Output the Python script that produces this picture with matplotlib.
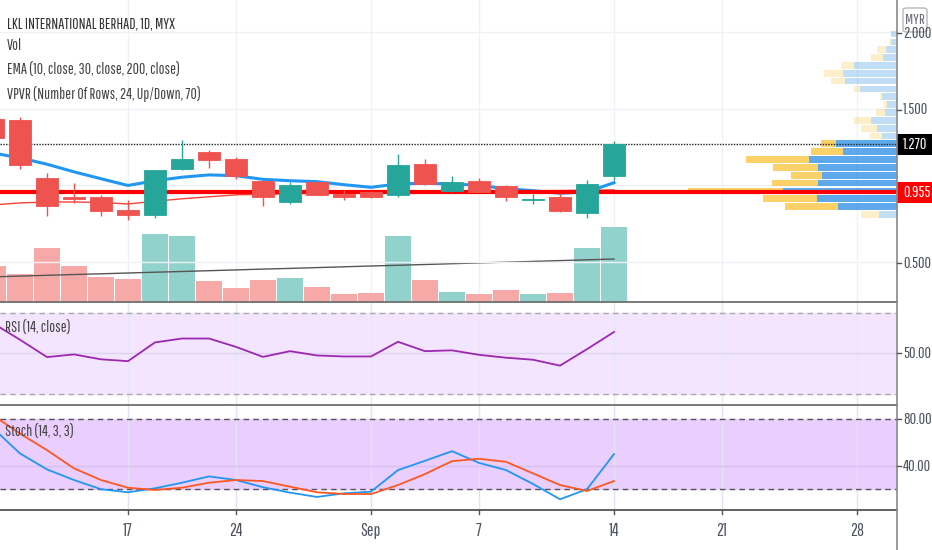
import numpy as np
import matplotlib
matplotlib.use("Agg")
import matplotlib.pyplot as plt
from matplotlib import font_manager
from matplotlib.patches import Rectangle, FancyBboxPatch

# the screenshot text is very narrow, so use a condensed face if one is there
installed = set(f.name for f in font_manager.fontManager.ttflist)
for fam in ['Pathway Gothic One', 'Sofia Sans Extra Condensed', 'Saira Extra Condensed',
            'Roboto Condensed', 'Liberation Sans Narrow', 'DejaVu Sans']:
    if fam in installed:
        break
plt.rcParams['font.family'] = [fam, 'DejaVu Sans']

# daily bars, LKL International Berhad (MYX), Aug 10 - Sep 14 2020
dates = ['2020-08-10', '2020-08-11', '2020-08-12', '2020-08-13', '2020-08-14',
         '2020-08-17', '2020-08-18', '2020-08-19', '2020-08-21', '2020-08-24',
         '2020-08-25', '2020-08-26', '2020-08-27', '2020-08-28', '2020-09-01',
         '2020-09-02', '2020-09-03', '2020-09-04', '2020-09-07', '2020-09-08',
         '2020-09-09', '2020-09-10', '2020-09-11', '2020-09-14']
opens = [1.435, 1.430, 1.050, 0.925, 0.925, 0.840, 0.810, 1.105, 1.220, 1.170, 1.030, 0.890,
         1.020, 0.945, 0.955, 0.935, 1.140, 0.965, 1.030, 0.995, 0.905, 0.925, 0.820, 1.060]
highs = [1.450, 1.450, 1.080, 1.015, 0.940, 0.905, 1.100, 1.300, 1.230, 1.185, 1.035, 1.025,
         1.030, 0.970, 0.965, 1.205, 1.175, 1.060, 1.050, 1.005, 0.945, 0.950, 1.035, 1.290]
lows = [1.300, 1.105, 0.800, 0.885, 0.800, 0.775, 0.790, 1.100, 1.115, 1.040, 0.865, 0.880,
        0.935, 0.905, 0.920, 0.925, 1.005, 0.960, 0.955, 0.900, 0.880, 0.825, 0.790, 1.035]
closes = [1.310, 1.135, 0.865, 0.910, 0.835, 0.805, 1.100, 1.170, 1.165, 1.065, 0.925, 1.005,
          0.940, 0.925, 0.925, 1.135, 1.010, 1.025, 0.960, 0.925, 0.910, 0.830, 1.010, 1.270]
volumes = [3570, 2770, 5330, 3570, 2500, 2270, 6800, 6530, 2070, 1400, 2200, 2370,
           1500, 800, 870, 6600, 2200, 1000, 730, 1170, 730, 870, 5330, 7430]
vol_ma = [2480, 2560, 2640, 2720, 2790, 2870, 2950, 3020, 3100, 3180, 3260, 3330,
          3410, 3490, 3570, 3640, 3720, 3800, 3880, 3950, 4030, 4110, 4190, 4270]
ema10 = [1.212, 1.180, 1.139, 1.089, 1.044, 1.000, 1.031, 1.054, 1.069, 1.064, 1.040, 1.031,
         1.025, 1.005, 0.988, 1.010, 1.014, 1.010, 1.001, 0.979, 0.966, 0.949, 0.958, 1.018]
ema30 = [0.873, 0.886, 0.892, 0.892, 0.889, 0.879, 0.897, 0.913, 0.926, 0.939, 0.942, 0.946,
         0.949, 0.951, 0.954, 0.956, 0.958, 0.960, 0.962, 0.964, 0.966, 0.967, 0.969, 0.971]
ema200_last = 0.955
rsi = [64.8, 56.7, 48.2, 49.5, 47.1, 46.2, 55.4, 57.3, 57.3, 53.2, 48.3, 51.1,
       49.0, 48.5, 48.5, 55.7, 51.1, 51.5, 49.3, 47.9, 46.9, 44.0, 52.1, 60.5]
stoch_k = [72.4, 50.8, 37.1, 28.0, 20.1, 17.5, 20.9, 25.7, 31.1, 28.0, 21.8, 17.2,
           13.5, 16.6, 18.0, 36.5, 44.5, 52.7, 42.7, 36.5, 24.6, 11.5, 20.1, 50.2]
stoch_d = [83.4, 67.8, 53.6, 38.0, 28.0, 21.4, 19.5, 21.4, 25.7, 28.0, 27.1, 22.3,
           17.5, 16.0, 16.0, 23.7, 33.1, 44.2, 46.2, 43.6, 33.7, 23.7, 18.6, 27.1]

# VPVR, 24 rows from top (2.015) to bottom (0.785)
vp_top, vp_bottom = 2.015, 0.785
vp_up = [53, 53, 110, 133, 430, 533, 520, 367, 143, 93, 120, 260,
         193, 150, 607, 540, 880, 790, 747, 783, 1140, 797, 590, 180]
vp_down = [0, 23, 83, 120, 127, 193, 140, 60, 27, 33, 90, 170,
           163, 120, 153, 320, 623, 450, 307, 460, 947, 537, 523, 177]
vp_value_area = [False] * 14 + [True] * 9 + [False]

tick_pos = [5, 9, 14, 18, 23, 27, 32]
tick_labels = ['17', '24', 'Sep', '7', '14', '21', '28']

W, H = 932, 550
UP, DN = '#26a69a', '#ef5350'
GRID = '#eef2f6'
TXT = '#4c525e'
FS = 11.5

fig = plt.figure(figsize=(W / 100, H / 100), dpi=100)
fig.patch.set_facecolor('white')


def rect(top, bottom, right=896.7):
    return [0, 1 - bottom / H, right / W, (bottom - top) / H]


xlim = (0.26, 33.47)
x = np.arange(len(closes))
ups = [c >= o for o, c in zip(opens, closes)]

# volume pane (behind price)
ax_v = fig.add_axes(rect(0, 301.7))
ax_v.set_xlim(xlim)
ax_v.set_ylim(0, 30170)
for t in tick_pos:
    ax_v.axvline(t, color=GRID, lw=1, zorder=0)
vcol = ['#92d2cc' if u else '#f7a9a7' for u in ups]
ax_v.bar(x, volumes, width=0.94, color=vcol, zorder=2)
ax_v.plot(x, vol_ma, color='#555555', lw=1, zorder=3)
ax_v.axis('off')

# price pane
ax = fig.add_axes(rect(0, 301.7))
ax.patch.set_alpha(0)
ax.set_xlim(xlim)
ax.set_ylim(0.2405, 2.212)
for lvl in [0.5, 1.0, 1.5, 2.0]:
    ax.axhline(lvl, color=GRID, lw=1, zorder=0)
ax.axis('off')

# volume profile, drawn from right edge leftward (27 px per bar)
rows = len(vp_up)
row_h = (vp_top - vp_bottom) / rows
centers = vp_top - row_h * (np.arange(rows) + 0.5)
scale = 0.1 / 27
up_w = np.array(vp_up) * scale
dn_w = np.array(vp_down) * scale
upc = [(0.118, 0.533, 0.898, 0.72 if va else 0.27) for va in vp_value_area]
dnc = [(0.984, 0.753, 0.176, 0.72 if va else 0.25) for va in vp_value_area]
ax.barh(centers, -up_w, left=xlim[1], height=row_h * 0.86, color=upc, zorder=1)
ax.barh(centers, -dn_w, left=xlim[1] - up_w, height=row_h * 0.86, color=dnc, zorder=1)

ax.plot(x, ema30, color='#f44336', lw=1, zorder=3)
ax.plot(x, ema10, color='#2196f3', lw=2.2, zorder=4)
ax.axhline(ema200_last, color='#ff0000', lw=3, zorder=4.5)
ax.axhline(closes[-1], color='#222222', lw=1, ls=(0, (1, 1)), zorder=4.5)

for i in x:
    c = UP if ups[i] else DN
    ax.vlines(i, lows[i], highs[i], color=c, lw=1, zorder=5)
    lo, hi = min(opens[i], closes[i]), max(opens[i], closes[i])
    ax.add_patch(Rectangle((i - 0.39, lo), 0.78, max(hi - lo, 0.004),
                           facecolor=c, edgecolor=c, lw=0.6, zorder=6))

# RSI pane
ax_r = fig.add_axes(rect(302, 404))
ax_r.set_xlim(xlim)
ax_r.set_ylim(25.2, 75.2)
ax_r.axhspan(30, 70, color='#f3e5fd', zorder=0)
for t in tick_pos:
    ax_r.axvline(t, color='#e6e9f5', lw=1, zorder=1)
ax_r.axhline(50, color='#dcd3f0', lw=1, zorder=1)
for lvl in [30, 70]:
    ax_r.axhline(lvl, color='#a8a8b0', lw=1, ls=(0, (4, 3)), zorder=2)
ax_r.plot(x, rsi, color='#9c27b0', lw=1.3, zorder=3)
ax_r.axis('off')

# Stoch pane
ax_s = fig.add_axes(rect(405, 509.3))
ax_s.set_xlim(xlim)
ax_s.set_ylim(2.9, 92.3)
ax_s.axhspan(20, 80, color='#eacefd', zorder=0)
for t in tick_pos:
    ax_s.axvline(t, color='#e3e3f5', lw=1, zorder=1)
ax_s.axhline(40, color='#d6c2f2', lw=1, zorder=1)
for lvl in [20, 80]:
    ax_s.axhline(lvl, color='#555555', lw=1, ls=(0, (4, 3)), zorder=2)
ax_s.plot(x, stoch_k, color='#2196f3', lw=1.3, zorder=3)
ax_s.plot(x, stoch_d, color='#ff5722', lw=1.3, zorder=3)
ax_s.axis('off')


def fx(px):
    return px / W


def fy(py):
    return 1 - py / H


# pane separators and right axis line
for yy, col in [(301.7, '#6f6f6f'), (404.5, '#6f6f6f'), (509.5, '#555555')]:
    fig.add_artist(plt.Line2D([0, fx(896.7)], [fy(yy), fy(yy)], color=col, lw=1.3))
fig.add_artist(plt.Line2D([fx(896.7), fx(896.7)], [0, 1], color='#8a8a8a', lw=1.2))

# right axis labels
ylabels = [('2.000', 33), ('1.500', 110), ('0.500', 263),
           ('50.00', 353.3), ('80.00', 419.3), ('40.00', 466.2)]
for s, py in ylabels:
    fig.add_artist(plt.Line2D([fx(897), fx(901)], [fy(py), fy(py)], color='#555555', lw=1))
    fig.text(fx(903), fy(py), s, color=TXT, fontsize=FS, va='center', ha='left')

# MYR box over the 2.000 label
fig.add_artist(FancyBboxPatch((fx(903), fy(32)), fx(24), 24 / H,
                              boxstyle='round,pad=0,rounding_size=0.004',
                              facecolor='white', edgecolor='#b8b8b8', lw=1,
                              transform=fig.transFigure))
fig.text(fx(915), fy(20), 'MYR', color='#6a6d78', fontsize=FS - 0.5, ha='center', va='center')

# last price labels
for s, p, col in [('1.270', closes[-1], '#000000'), ('0.955', ema200_last, '#ff0000')]:
    py = 109 + (1.5 - p) * 153
    fig.add_artist(Rectangle((fx(897), fy(py + 10.5)), fx(35), 21 / H,
                             facecolor=col, edgecolor='none', transform=fig.transFigure))
    fig.text(fx(903), fy(py), s, color='white', fontsize=FS, va='center', ha='left')

# x axis labels
for t, s in zip(tick_pos, tick_labels):
    px = 614 + (t - 23) * 27
    fig.add_artist(plt.Line2D([fx(px), fx(px)], [fy(510), fy(514)], color='#555555', lw=1))
    fig.text(fx(px), fy(531), s, color=TXT, fontsize=FS + 1, ha='center', va='center')

# legends
LFS = 11.2
fig.text(fx(7), fy(24), 'LKL INTERNATIONAL BERHAD, 1D, MYX', color='#333333', fontsize=LFS, va='center')
fig.text(fx(7), fy(46), 'Vol', color='#444444', fontsize=LFS, va='center')
fig.text(fx(7), fy(70), 'EMA (10, close, 30, close, 200, close)', color='#444444', fontsize=LFS, va='center')
fig.text(fx(7), fy(94), 'VPVR (Number Of Rows, 24, Up/Down, 70)', color='#444444', fontsize=LFS, va='center')
fig.text(fx(5), fy(327), 'RSI (14, close)', color='#444444', fontsize=LFS, va='center')
fig.text(fx(5), fy(432), 'Stoch (14, 3, 3)', color='#444444', fontsize=LFS, va='center')

fig.savefig('out.png', dpi=100)
